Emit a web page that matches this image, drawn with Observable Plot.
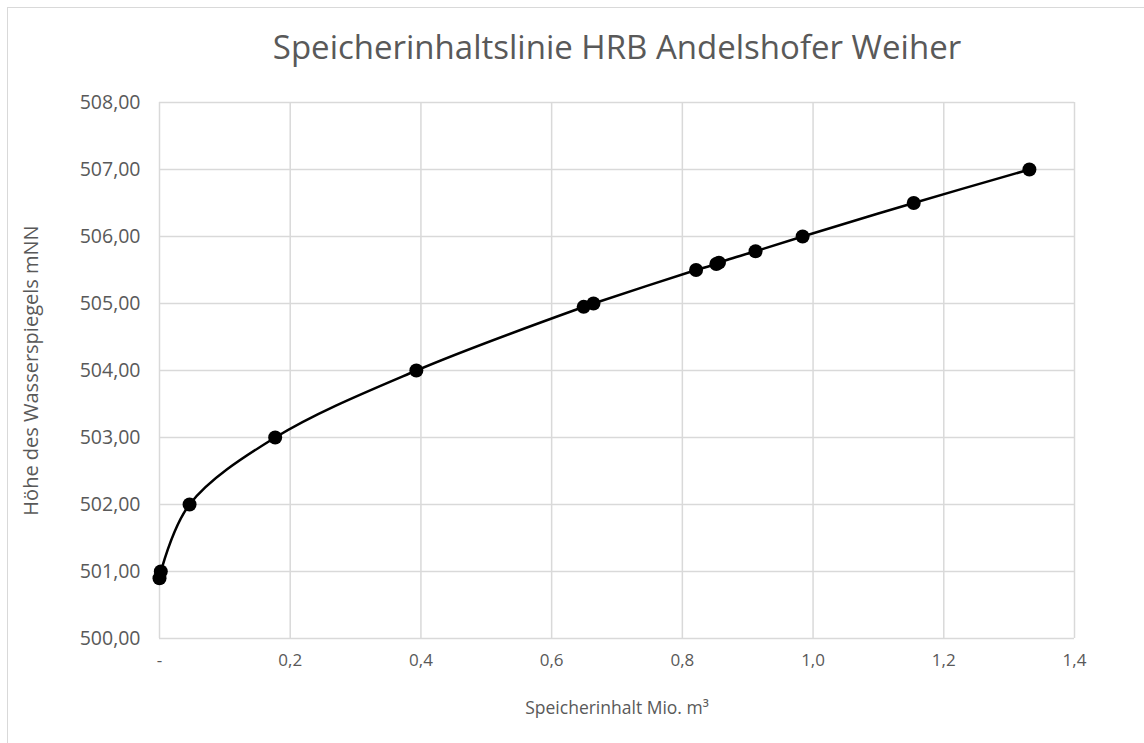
<!DOCTYPE html>
<html>
<head>
<meta charset="utf-8">
<script src="https://cdn.jsdelivr.net/npm/d3@7"></script>
<script src="https://cdn.jsdelivr.net/npm/@observablehq/plot@0.6"></script>
<style>
  html, body { margin: 0; padding: 0; background: #fff; }
  #wrap { position: relative; width: 1144px; height: 743px; overflow: hidden; font-family: "Open Sans", sans-serif; }
  #frame { position: absolute; left: 7px; top: 7px; width: 1200px; height: 800px; border: 1.5px solid #d9d9d9; box-sizing: border-box; }
  #title { position: absolute; left: 217px; width: 800px; top: 27px; text-align: center; font-size: 33px; color: #595959; line-height: 1.2; white-space: nowrap; }
  #chart { position: absolute; left: 0; top: 0; }
</style>
</head>
<body>
<div id="wrap">
  <div id="frame"></div>
  <div id="chart"></div>
  <div id="title">Speicherinhaltslinie HRB Andelshofer Weiher</div>
</div>
<script>
// Speicherinhalt (Mio. m³)
const volume = [0.000, 0.002, 0.046, 0.177, 0.393, 0.649, 0.664, 0.821, 0.852, 0.856, 0.912, 0.984, 1.154, 1.331];
// Höhe des Wasserspiegels (mNN)
const level = [500.90, 501.00, 502.00, 503.00, 504.00, 504.95, 505.00, 505.50, 505.59, 505.61, 505.78, 506.00, 506.50, 507.00];
const xTicks = [0, 0.2, 0.4, 0.6, 0.8, 1.0, 1.2, 1.4];
const yTicks = [500, 501, 502, 503, 504, 505, 506, 507, 508];
const xLabel = "Speicherinhalt Mio. m³";
const yLabel = "Höhe des Wasserspiegels mNN";

const data = volume.map((v, i) => ({v, h: level[i]}));
const fmtX = d => d === 0 ? "-" : d.toFixed(1).replace(".", ",");
const fmtY = d => d.toFixed(2).replace(".", ",");
const textColor = "#595959";
const gridColor = "#d9d9d9";

const chart = Plot.plot({
  width: 1144,
  height: 743,
  marginLeft: 159,
  marginRight: 70,
  marginTop: 102,
  marginBottom: 105,
  style: {fontFamily: "Open Sans, sans-serif", fontSize: "17px", color: textColor, background: "transparent", overflow: "visible"},
  x: {domain: [0, 1.4]},
  y: {domain: [500, 508]},
  marks: [
    Plot.gridX(xTicks, {stroke: gridColor, strokeOpacity: 1, strokeWidth: 1.5}),
    Plot.gridY(yTicks, {stroke: gridColor, strokeOpacity: 1, strokeWidth: 1.5}),
    Plot.axisX(xTicks, {tickFormat: fmtX, tickSize: 0, tickPadding: 15, fill: textColor, fontSize: 17,
      label: xLabel, labelAnchor: "center", labelArrow: "none", labelOffset: 75}),
    Plot.axisY(yTicks, {tickFormat: fmtY, tickSize: 0, tickPadding: 19, fill: textColor, fontSize: 19.5,
      label: yLabel, labelAnchor: "center", labelArrow: "none", labelOffset: 136}),
    Plot.line(data, {x: "v", y: "h", curve: "catmull-rom", stroke: "#000", strokeWidth: 2.5}),
    Plot.dot(data, {x: "v", y: "h", r: 7, fill: "#000", stroke: "none"})
  ]
});
// axis title sizes
chart.querySelectorAll("g[aria-label='x-axis label']").forEach(g => g.setAttribute("font-size", "17.5"));
chart.querySelectorAll("g[aria-label='y-axis label']").forEach(g => g.setAttribute("font-size", "20"));
document.getElementById("chart").appendChild(chart);
</script>
</body>
</html>
